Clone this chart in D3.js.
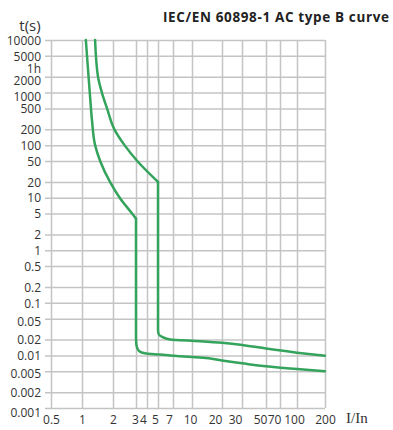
<!DOCTYPE html>
<html>
<head>
<meta charset="utf-8">
<script src="https://cdn.jsdelivr.net/npm/d3@7"></script>
<style>
  html, body { margin: 0; padding: 0; background: #fff; }
  svg text { font-family: "Open Sans", "DejaVu Sans", sans-serif; }
</style>
</head>
<body>
<svg id="chart" width="393" height="430"></svg>
<script>
// Tick values and labels
const xTicks = [0.5, 1, 2, 3, 4, 5, 7, 10, 20, 30, 50, 70, 100, 200];
const yTicks = [10000, 5000, 2000, 1000, 500, 200, 100, 50, 20, 10, 5, 2, 1, 0.5, 0.2, 0.1, 0.05, 0.02, 0.01, 0.005, 0.002, 0.001];
const yLabelValues = [10000, 5000, 3600, 2000, 1000, 500, 200, 100, 50, 20, 10, 5, 2, 1, 0.5, 0.2, 0.1, 0.05, 0.02, 0.01, 0.005, 0.002, 0.001];
const yLabelText = ['10000', '5000', '1h', '2000', '1000', '500', '200', '100', '50', '20', '10', '5', '2', '1', '0.5', '0.2', '0.1', '0.05', '0.02', '0.01', '0.005', '0.002', '0.001'];

// Curve points: multiple of In, tripping time in s
// thermal part (down to the corner) and magnetic part (from the corner on)
const lowerThermalI = [1.09, 1.14, 1.19, 1.25, 1.34, 1.5, 1.87, 2.25, 2.8, 3];
const lowerThermalT = [10000, 3000, 1000, 300, 100, 50, 20, 10, 5, 4];
const lowerMagneticI = [3, 3, 3.03, 3.12, 3.32, 3.93, 5.2, 7, 10, 12, 20, 30, 50, 100, 200];
const lowerMagneticT = [4, 0.022, 0.016, 0.0135, 0.0118, 0.0109, 0.0104, 0.0099, 0.0093, 0.0091, 0.008, 0.0071, 0.0062, 0.0055, 0.005];

const upperThermalI = [1.34, 1.43, 1.56, 1.75, 2.05, 2.45, 3.1, 5];
const upperThermalT = [10000, 2000, 1000, 500, 200, 100, 50, 20];
const upperMagneticI = [5, 5, 5.05, 5.43, 6.55, 12, 20, 30, 50, 100, 200];
const upperMagneticT = [20, 0.032, 0.026, 0.0228, 0.0201, 0.0186, 0.0174, 0.0158, 0.0135, 0.0113, 0.0099];

const svg = d3.select('#chart');
const plotTop = 40, plotBottom = 408, plotLeft = 45, plotRight = 325;

// x grid in the original is hand spaced, so a piecewise log scale follows it
const x = d3.scaleLog()
    .domain(xTicks)
    .range([51, 82, 113, 136, 147, 158, 173, 192, 222, 242, 266, 280, 297, 325]);
const y = d3.scaleLog()
    .domain([0.001, 10000])
    .range([plotBottom, plotTop]);

const gridColor = '#c4c4c4';

// horizontal grid
svg.append('g')
    .attr('transform', `translate(${plotLeft},0)`)
    .call(d3.axisLeft(y).tickValues(yTicks).tickSize(-(plotRight - plotLeft)).tickFormat(''))
    .call(g => g.select('.domain').remove())
    .call(g => g.selectAll('line').attr('stroke', gridColor).attr('stroke-width', 1.5));

// vertical grid
svg.append('g')
    .attr('transform', `translate(0,${plotBottom})`)
    .call(d3.axisBottom(x).tickValues(xTicks).tickSize(-(plotBottom - plotTop)).tickFormat(''))
    .call(g => g.select('.domain').remove())
    .call(g => g.selectAll('line').attr('stroke', gridColor).attr('stroke-width', 1.5));

// y labels (a few are spread apart, like the original)
const yShift = {'1h': 5, '2000': 4, '1000': 4, '0.05': 3, '0.005': 2, '0.001': 4};
svg.append('g')
    .attr('transform', `translate(${plotLeft - 4},0)`)
    .call(d3.axisLeft(y).tickValues(yLabelValues).tickSize(0)
        .tickFormat((d, i) => yLabelText[i]))
    .call(g => g.select('.domain').remove())
    .call(g => g.selectAll('text')
        .attr('x', 0)
        .attr('dy', (d, i) => (yShift[yLabelText[i]] || 0) + 4.2)
        .attr('fill', '#333')
        .attr('font-size', '12px')
        .attr('font-family', '"Open Sans", sans-serif'));

// x labels, nudged left like the original
const xShift = {3: -1, 4: -4, 5: -3, 7: -4, 10: -2, 20: -7, 30: -7, 50: -6, 70: -6, 100: -3};
svg.append('g')
    .attr('transform', `translate(0,${plotBottom})`)
    .call(d3.axisBottom(x).tickValues(xTicks).tickSize(0).tickFormat(d => String(d)))
    .call(g => g.select('.domain').remove())
    .call(g => g.selectAll('text')
        .attr('y', 7)
        .attr('dy', '0.71em')
        .attr('dx', d => xShift[d] || 0)
        .attr('fill', '#333')
        .attr('font-size', '12px')
        .attr('font-family', '"Open Sans", sans-serif'));

// curves: each part is monotone in t, so interpolate x along y
const line = d3.line()
    .x(d => x(d[0]))
    .y(d => y(d[1]))
    .curve(d3.curveMonotoneY);

const parts = [
    d3.zip(lowerThermalI, lowerThermalT),
    d3.zip(lowerMagneticI, lowerMagneticT),
    d3.zip(upperThermalI, upperThermalT),
    d3.zip(upperMagneticI, upperMagneticT)
];

svg.append('g')
    .selectAll('path')
    .data(parts)
    .join('path')
    .attr('d', line)
    .attr('fill', 'none')
    .attr('stroke', '#34a35b')
    .attr('stroke-width', 2.5)
    .attr('stroke-linejoin', 'round')
    .attr('stroke-linecap', 'round');

// title and axis names
svg.append('text')
    .attr('x', 163)
    .attr('y', 22)
    .attr('font-size', '13.5px')
    .attr('font-weight', 'bold')
    .attr('fill', '#222')
    .attr('textLength', 226)
    .attr('lengthAdjust', 'spacing')
    .text('IEC/EN 60898-1 AC type B curve');

svg.append('text')
    .attr('x', 30)
    .attr('y', 31)
    .attr('text-anchor', 'middle')
    .attr('font-size', '15px')
    .attr('fill', '#333')
    .text('t(s)');

svg.append('text')
    .attr('x', 346)
    .attr('y', 423)
    .attr('font-size', '15px')
    .attr('fill', '#333')
    .style('font-family', '"Liberation Serif", serif')
    .text('I/In');
</script>
</body>
</html>
